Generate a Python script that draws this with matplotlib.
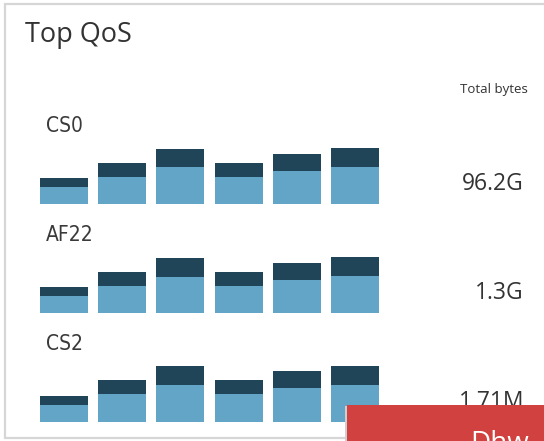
import matplotlib.pyplot as plt
from matplotlib.patches import Rectangle
import numpy as np

W, H = 544, 441

classes = ['CS0', 'AF22', 'CS2']
totals = ['96.2G', '1.3G', '1.71M']
# per-interval traffic, two stacked parts (relative units)
lower = [
    [17, 27, 37, 27, 33, 37],
    [17, 27, 36, 27, 33, 37],
    [17, 28, 37, 28, 34, 37],
]
upper = [
    [9, 14, 18, 14, 17, 19],
    [9, 14, 19, 14, 17, 19],
    [9, 14, 19, 14, 17, 19],
]

LIGHT = '#63a5c6'
DARK = '#214558'

def fx(px):
    return px / W

def fy(px):
    return 1 - px / H

fig = plt.figure(figsize=(W / 100, H / 100), dpi=100)
fig.patch.set_facecolor('white')

# card
fig.patches.append(Rectangle((fx(5), fy(438)), fx(600), fy(4) - fy(438),
                             transform=fig.transFigure, facecolor='white',
                             edgecolor='#d6d6d6', lw=1.6, zorder=-2))

fig.text(fx(25), fy(42), 'Top QoS', fontsize=19.5, family='Open Sans',
         color='#333333', va='baseline', ha='left')
fig.text(fx(528), fy(93), 'Total bytes', fontsize=9.5, family='Open Sans',
         color='#333333', va='baseline', ha='right')

baselines = [204, 313, 422]
for i, name in enumerate(classes):
    base = baselines[i]
    ax = fig.add_axes([fx(40), fy(base), fx(339), 60 / H])
    x = np.arange(len(lower[i]))
    ax.bar(x, lower[i], width=0.82, color=LIGHT, linewidth=0)
    ax.bar(x, upper[i], width=0.82, bottom=lower[i], color=DARK, linewidth=0)
    ax.set_xlim(-0.41, 5.41)
    ax.set_ylim(0, 60)
    ax.axis('off')

    fig.text(fx(46), fy(base - 72), name, fontsize=15,
             family=['Liberation Sans Narrow', 'DejaVu Sans'], stretch='condensed',
             color='#3a3a3a', va='baseline', ha='left')
    fig.text(fx(524), fy(base - 14), totals[i], fontsize=16.5, family='Open Sans',
             color='#333333', va='baseline', ha='right', zorder=3)

# notification overlay at bottom right
fig.patches.append(Rectangle((fx(345), fy(443)), fx(2), fy(406) - fy(443),
                             transform=fig.transFigure, facecolor='#cfcfcf',
                             edgecolor='none', zorder=5))
fig.patches.append(Rectangle((fx(347), fy(445)), fx(220), fy(405) - fy(445),
                             transform=fig.transFigure, facecolor='#d0413f',
                             edgecolor='none', zorder=6))
fig.text(fx(470), fy(451), 'Dhw', fontsize=20, family='Open Sans',
         color='white', va='baseline', ha='left', zorder=7)

fig.savefig('out.png', dpi=100)
